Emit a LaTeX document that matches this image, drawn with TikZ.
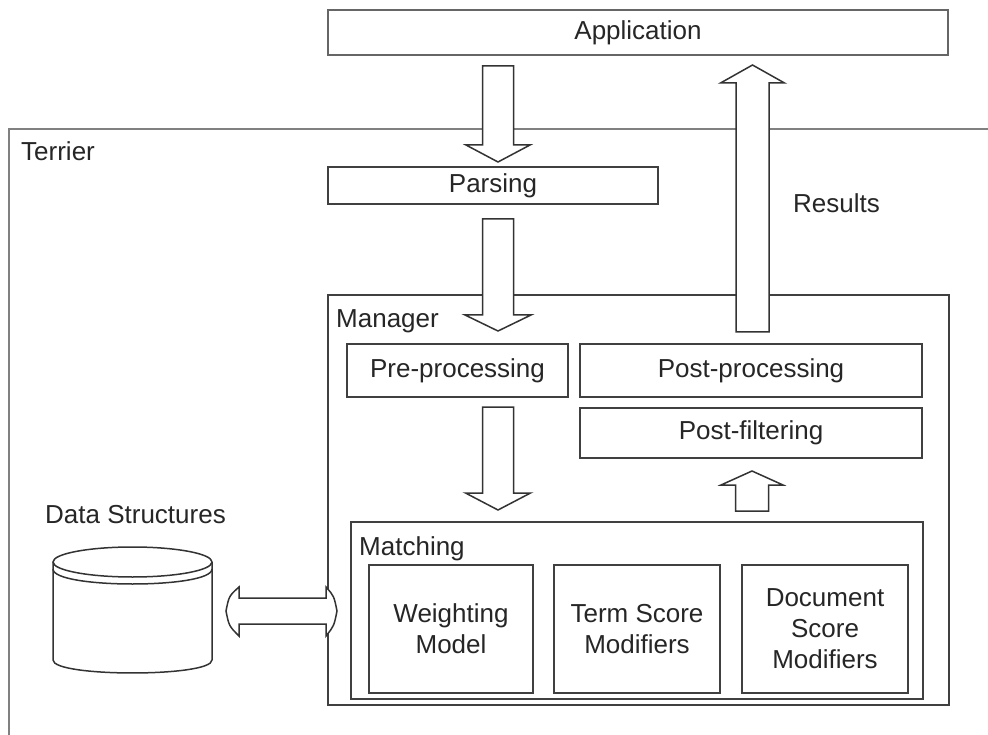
\documentclass[tikz,border=0pt]{standalone}
\usepackage{fontspec}
\setmainfont{Liberation Sans}
\usetikzlibrary{calc}
\tikzset{
  lbl/.style={font=\fontsize{26}{31}\selectfont, text=black!85, inner sep=0pt},
  box/.style={draw=black!75, line width=1.6pt, fill=white, lbl, align=center},
  appbox/.style={box, draw=black!60, line width=2pt},
  terr/.style={draw=black!50, line width=2pt},
  blk/.style={draw=black!80, line width=1.5pt, fill=white, line join=miter},
}
% vertical block arrow: tail, tip, shaft half width, head half width, head length
\newcommand\vblk[5]{%
  \draw[blk] let \p1=(#1), \p2=(#2), \n1={sign(\y1-\y2)} in
    ({\x1-#3},\y1) -- ({\x1-#3},{\y2+\n1*#5}) -- ({\x1-#4},{\y2+\n1*#5}) -- (\x1,\y2)
    -- ({\x1+#4},{\y2+\n1*#5}) -- ({\x1+#3},{\y2+\n1*#5}) -- ({\x1+#3},\y1) -- cycle;}
\begin{document}
\begin{tikzpicture}[x=1pt,y=-1pt]
\useasboundingbox (0,0) rectangle (988,735);
% Terrier frame
\draw[terr] (995,129) -| (9,745);
\node[lbl, anchor=base west] (terrier) at (21,161) {Terrier};
% boxes
\node[appbox, minimum width=620pt, minimum height=45pt] (app) at (638,32.5) {Application};
\node[box, minimum width=330pt, minimum height=37pt] (parse) at (493,185.5) {Parsing};
\node[box, minimum width=621pt, minimum height=410pt] (manager) at (638.5,500) {};
\node[lbl, anchor=base west] (managerlbl) at (336,327) {Manager};
\node[box, minimum width=221pt, minimum height=53pt] (pre) at (457.5,370.5) {Pre-processing};
\node[box, minimum width=342pt, minimum height=53pt] (post) at (751,370.5) {Post-processing};
\node[box, minimum width=342pt, minimum height=50pt] (filt) at (751,433) {Post-filtering};
\node[box, minimum width=572pt, minimum height=177pt] (match) at (637,610.5) {};
\node[lbl, anchor=base west] (matchlbl) at (359,555) {Matching};
\node[box, minimum width=164pt, minimum height=128pt] (wm) at (451,629) {Weighting\\Model};
\node[box, minimum width=166pt, minimum height=128pt] (tsm) at (637,629) {Term Score\\Modifiers};
\node[box, minimum width=166pt, minimum height=128pt] (dsm) at (825,629) {Document\\Score\\Modifiers};
\node[lbl, anchor=base west] (results) at (793,213) {Results};
% data structures cylinder
\node[lbl, anchor=base west] (dslbl) at (45,523) {Data Structures};
\draw[blk] (53,562) -- (53,660) .. controls (53,677.3) and (212,677.3) .. (212,660) -- (212,562);
\draw[blk] (132.5,562) ellipse [x radius=79.5pt, y radius=15pt];
\draw[blk, fill=none] (53,569) .. controls (53,589) and (212,589) .. (212,569);
\coordinate (db) at (132.5,611);
% block arrows
\coordinate (a1s) at (498,66);  \coordinate (a1e) at (498,162);
\coordinate (a2s) at (498,219); \coordinate (a2e) at (498,331);
\coordinate (a3s) at (498,407); \coordinate (a3e) at (498,510);
\coordinate (a4s) at (752.5,332); \coordinate (a4e) at (752.5,65);
\coordinate (a5s) at (752,511); \coordinate (a5e) at (752,471);
\vblk{a1s}{a1e}{15.5pt}{32pt}{17pt}
\vblk{a2s}{a2e}{15.5pt}{33pt}{16pt}
\vblk{a3s}{a3e}{15.5pt}{32.5pt}{17pt}
\vblk{a4s}{a4e}{16.5pt}{32pt}{18pt}
\vblk{a5s}{a5e}{16.5pt}{31pt}{14pt}
% double arrow
\coordinate (dl) at (226,611); \coordinate (dr) at (337,611);
\draw[blk] (dl) .. controls (229,596) .. (239,587) -- (239,598) -- (326,598) -- (326,587)
  .. controls (334,596) .. (dr) .. controls (334,626) .. (326,636) -- (326,624) -- (239,624)
  -- (239,636) .. controls (229,626) .. (dl) -- cycle;
\end{tikzpicture}
\end{document}
